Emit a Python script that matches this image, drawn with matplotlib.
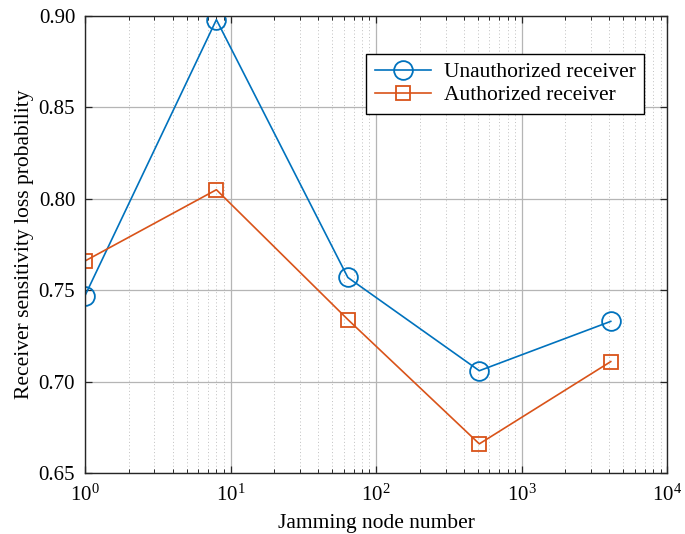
import matplotlib
matplotlib.use('Agg')
import matplotlib.pyplot as plt
import numpy as np

# data
nodes = [1, 8, 64, 512, 4096]
unauthorized = [0.747, 0.898, 0.757, 0.706, 0.733]
authorized = [0.766, 0.805, 0.734, 0.666, 0.711]
x_ticks = [1, 10, 100, 1000, 10000]
y_ticks = [0.65, 0.70, 0.75, 0.80, 0.85, 0.90]

plt.rcParams['font.family'] = ['Liberation Serif', 'DejaVu Serif']
plt.rcParams['mathtext.fontset'] = 'stix'

fig = plt.figure(figsize=(6.85, 5.34), dpi=100)
ax = fig.add_axes([0.124, 0.114, 0.850, 0.856])

ax.plot(nodes, unauthorized, '-o', color='#0072BD', lw=1.2, ms=13.5,
        mfc='none', mew=1.3, label='Unauthorized receiver')
ax.plot(nodes, authorized, '-s', color='#D95319', lw=1.2, ms=10,
        mfc='none', mew=1.3, label='Authorized receiver')

ax.set_xscale('log')
ax.set_xlim(1, 10000)
ax.set_ylim(0.65, 0.90)
ax.set_xticks(x_ticks)
ax.set_yticks(y_ticks)
ax.set_yticklabels(['%.2f' % v for v in y_ticks])

ax.grid(True, which='major', color='#b5b5b5', lw=0.9, ls='-')
ax.grid(True, which='minor', axis='x', color='#c0c0c0', lw=0.7, ls=(0, (1, 2.5)))
ax.set_axisbelow(True)

ax.tick_params(which='both', direction='in', top=True, right=True,
               labelsize=15, colors='#262626', labelcolor='black')
ax.tick_params(which='major', length=5, width=0.9)
ax.tick_params(which='minor', length=3, width=0.7)
ax.tick_params(axis='y', pad=7)
ax.tick_params(axis='x', pad=8)
for s in ax.spines.values():
    s.set_color('#262626')
    s.set_linewidth(1.0)

ax.set_xlabel('Jamming node number', fontsize=15.5, labelpad=6)
ax.set_ylabel('Receiver sensitivity loss probability', fontsize=15.5, labelpad=3)

leg = ax.legend(loc='upper right', bbox_to_anchor=(0.961, 0.918), fontsize=15.5,
                fancybox=False, framealpha=1, edgecolor='black',
                handlelength=2.6, borderpad=0.4, labelspacing=0.15,
                handletextpad=0.6, borderaxespad=0)
leg.get_frame().set_linewidth(1.0)

fig.savefig('out.png', dpi=100)
